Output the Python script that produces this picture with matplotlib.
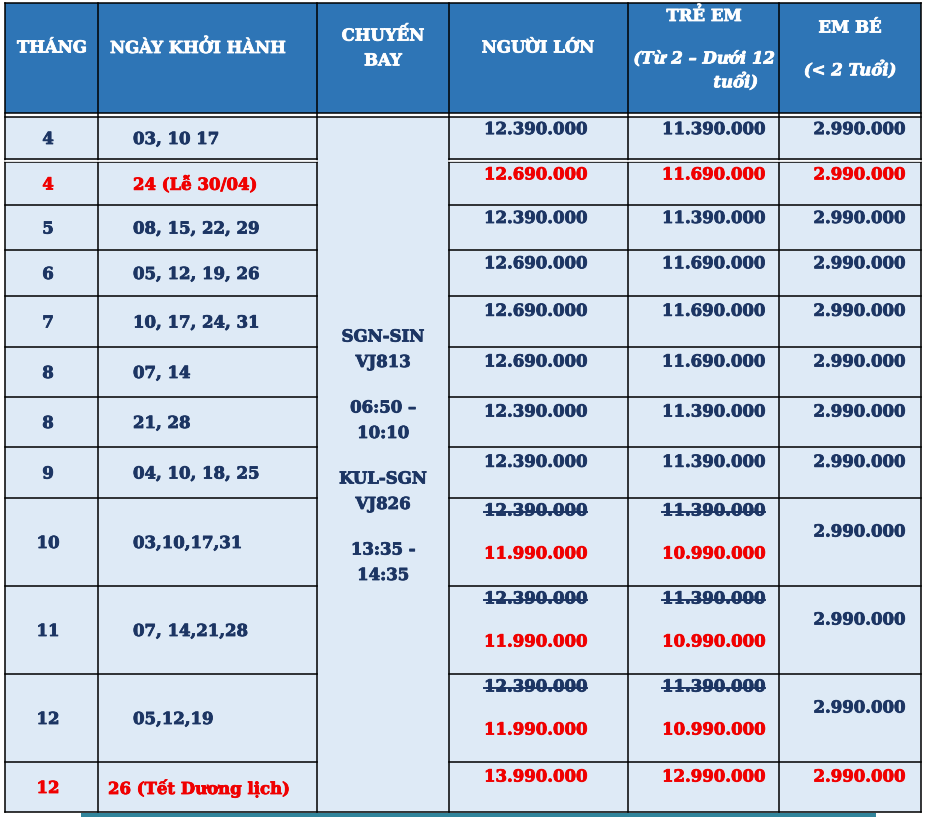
import matplotlib
matplotlib.use("Agg")
import matplotlib.pyplot as plt
import matplotlib.patheffects as pe
from matplotlib.patches import Rectangle

# ---- data ----
headers = ["THÁNG", "NGÀY KHỞI HÀNH", "CHUYẾN\nBAY", "NGƯỜI LỚN", "TRẺ EM", "EM BÉ"]
header_sub = ["", "", "", "", "(Từ 2 – Dưới 12", "(< 2 Tuổi)"]

months = ["4", "4", "5", "6", "7", "8", "8", "9", "10", "11", "12", "12"]
dates = ["03, 10 17", "24 (Lễ 30/04)", "08, 15, 22, 29", "05, 12, 19, 26",
         "10, 17, 24, 31", "07, 14", "21, 28", "04, 10, 18, 25",
         "03,10,17,31", "07, 14,21,28", "05,12,19", "26 (Tết Dương lịch)"]
adult = ["12.390.000", "12.690.000", "12.390.000", "12.690.000", "12.690.000",
         "12.690.000", "12.390.000", "12.390.000", "12.390.000", "12.390.000",
         "12.390.000", "13.990.000"]
child = ["11.390.000", "11.690.000", "11.390.000", "11.690.000", "11.690.000",
         "11.690.000", "11.390.000", "11.390.000", "11.390.000", "11.390.000",
         "11.390.000", "12.990.000"]
infant = ["2.990.000"] * 12
# promo prices (old price struck through)
adult_sale = [None] * 8 + ["11.990.000", "11.990.000", "11.990.000", None]
child_sale = [None] * 8 + ["10.990.000", "10.990.000", "10.990.000", None]
highlight = [False, True] + [False] * 9 + [True]

flights = [("SGN-SIN", "VJ813"), ("06:50 –", "10:10"),
           ("KUL-SGN", "VJ826"), ("13:35 -", "14:35")]

# ---- layout ----
col_x = [5, 98, 317, 449, 628, 779, 921]
head_top, head_bot = 3, 113
row_top = [117, 162, 205, 250, 296, 347, 397, 447, 498, 586, 674, 762]
table_bot = 812

NAVY = "#1c3563"
RED = "#f00000"
HEAD = "#2e75b6"
CELL = "#deeaf6"

plt.rcParams["font.family"] = ["DejaVu Serif"]
fs = 11.9


def heavy(c):
    # Cambria bold is heavier than DejaVu Serif bold, thicken a bit
    return [pe.withStroke(linewidth=0.6, foreground=c)]


fig = plt.figure(figsize=(9.28, 8.17), dpi=100)
ax = fig.add_axes([0, 0, 1, 1])
ax.set_xlim(0, 928)
ax.set_ylim(817, 0)
ax.axis("off")

# backgrounds
ax.add_patch(Rectangle((col_x[0], head_top), col_x[-1] - col_x[0], head_bot - head_top,
                       facecolor=HEAD, edgecolor="none"))
ax.add_patch(Rectangle((col_x[0], head_bot), col_x[-1] - col_x[0], table_bot - head_bot,
                       facecolor=CELL, edgecolor="none"))
ax.add_patch(Rectangle((81, 813), 795, 5, facecolor="#31849b", edgecolor="none"))

lw = 1.1
# outer / header lines
ax.plot([col_x[0], col_x[-1]], [head_top, head_top], color="black", lw=lw)
ax.plot([col_x[0], col_x[-1]], [head_bot, head_bot], color="black", lw=lw)
ax.plot([col_x[0], col_x[-1]], [116.5, 116.5], color="black", lw=lw)
ax.plot([col_x[0], col_x[-1]], [114.8, 114.8], color="white", lw=1.5)
ax.plot([col_x[0], col_x[-1]], [table_bot, table_bot], color="black", lw=lw)
for x in col_x:
    ax.plot([x, x], [head_top, table_bot], color="black", lw=lw)

# row lines (middle column is merged)
for i, t in enumerate(row_top[1:]):
    for a, b in [(col_x[0], col_x[2]), (col_x[3], col_x[-1])]:
        ax.plot([a, b], [t, t], color="black", lw=lw)
        if i == 0:
            ax.plot([a, b], [t - 3, t - 3], color="black", lw=lw)
            ax.plot([a, b], [t - 1.5, t - 1.5], color="white", lw=1.2)

# header text
hkw = dict(color="white", fontsize=fs, fontweight="bold", path_effects=heavy("white"))
ax.text(52, 48, headers[0], ha="center", va="center", **hkw)
ax.text(110, 48, headers[1], ha="left", va="center", **hkw)
ax.text(383, 48, headers[2], ha="center", va="center", linespacing=1.6, **hkw)
ax.text(538, 48, headers[3], ha="center", va="center", **hkw)
ax.text(704, 16, headers[4], ha="center", va="center", **hkw)
ax.text(704, 59, header_sub[4], ha="center", va="center", style="italic", **hkw)
ax.text(758, 82, "tuổi)", ha="right", va="center", style="italic", **hkw)
ax.text(850, 28, headers[5], ha="center", va="center", **hkw)
ax.text(850, 70, header_sub[5], ha="center", va="center", style="italic", **hkw)

# flight column
for i, (l1, l2) in enumerate(flights):
    y0 = 337 + 71 * i
    ax.text(383, y0, l1, ha="center", va="center", color=NAVY, fontsize=fs,
            fontweight="bold", path_effects=heavy(NAVY))
    ax.text(383, y0 + 25.5, l2, ha="center", va="center", color=NAVY, fontsize=fs,
            fontweight="bold", path_effects=heavy(NAVY))

bottoms = row_top[1:] + [table_bot]
bottoms[0] = 159
strikes = []
for i in range(len(months)):
    top, bot = row_top[i], bottoms[i]
    h = bot - top
    mid = (top + bot) / 2 + 1.5
    c = RED if highlight[i] else NAVY
    kw = dict(fontsize=fs, fontweight="bold", va="center")
    ax.text(48, mid, months[i], ha="center", color=c, path_effects=heavy(c), **kw)
    ax.text(108 if i == len(months) - 1 else 133, mid, dates[i], ha="left", color=c,
            path_effects=heavy(c), **kw)
    if adult_sale[i] is None:
        py = top + 0.3 * h
        ax.text(484, py, adult[i], ha="left", color=c, path_effects=heavy(c), **kw)
        ax.text(765, py, child[i], ha="right", color=c, path_effects=heavy(c), **kw)
        ax.text(905, py, infant[i], ha="right", color=c, path_effects=heavy(c), **kw)
    else:
        strikes.append(ax.text(484, top + 13, adult[i], ha="left", color=NAVY,
                               path_effects=heavy(NAVY), **kw))
        strikes.append(ax.text(765, top + 13, child[i], ha="right", color=NAVY,
                               path_effects=heavy(NAVY), **kw))
        ax.text(484, top + 56, adult_sale[i], ha="left", color=RED, path_effects=heavy(RED), **kw)
        ax.text(765, top + 56, child_sale[i], ha="right", color=RED, path_effects=heavy(RED), **kw)
        ax.text(905, top + 34, infant[i], ha="right", color=NAVY, path_effects=heavy(NAVY), **kw)

# strike-through lines from the rendered text extents
fig.canvas.draw()
r = fig.canvas.get_renderer()
inv = ax.transData.inverted()
for t in strikes:
    bb = t.get_window_extent(r)
    (x0, y0), (x1, y1) = inv.transform([[bb.x0, bb.y0], [bb.x1, bb.y1]])
    ym = t.get_position()[1] + 0.5
    ax.plot([x0, x1], [ym, ym], color=NAVY, lw=1.4)

fig.savefig("out.png", dpi=100)
